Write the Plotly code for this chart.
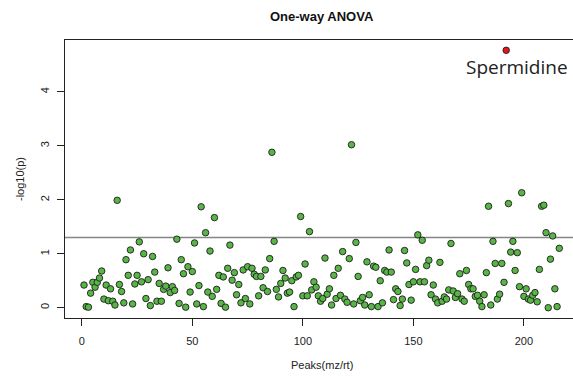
import plotly.graph_objects as go

# -log10(p) for each peak, in peak order (index 1..216)
neglog10p = [
    0.42, 0.02, 0.01, 0.27, 0.47, 0.38, 0.47, 0.55, 0.68, 0.16,
    0.42, 0.13, 0.35, 0.12, 0.05, 1.99, 0.43, 0.30, 0.09, 0.89,
    0.60, 1.07, 0.07, 0.44, 0.60, 1.22, 0.48, 1.00, 0.17, 0.52,
    0.04, 0.95, 0.66, 0.12, 0.45, 0.12, 0.34, 0.40, 0.74, 0.28,
    0.39, 0.32, 1.27, 0.08, 0.89, 0.63, 0.01, 0.76, 0.29, 0.67,
    1.20, 0.07, 0.41, 1.87, 0.02, 1.39, 0.29, 1.05, 0.21, 1.67,
    0.34, 0.60, 0.08, 0.57, 0.01, 0.73, 1.16, 0.51, 0.65, 0.24,
    0.43, 0.09, 0.70, 0.17, 0.76, 0.07, 0.73, 0.62, 0.58, 0.22,
    0.58, 0.37, 0.70, 0.30, 0.91, 2.88, 1.23, 0.34, 0.20, 0.45,
    0.69, 0.55, 0.27, 0.29, 0.50, 0.02, 0.57, 0.60, 1.69, 0.22,
    0.81, 0.22, 1.41, 0.33, 0.48, 0.38, 0.22, 0.12, 0.17, 0.92,
    0.25, 0.35, 0.05, 0.60, 0.17, 0.73, 0.23, 1.04, 0.16, 0.10,
    0.91, 3.02, 0.07, 1.21, 0.58, 0.13, 0.19, 0.05, 0.85, 0.24,
    0.02, 0.77, 0.75, 0.02, 0.50, 0.09, 0.69, 0.66, 1.07, 0.66,
    0.15, 0.35, 0.30, 0.04, 0.16, 1.06, 0.83, 0.43, 0.14, 0.48,
    0.71, 1.35, 0.48, 1.25, 0.48, 0.78, 0.88, 0.24, 0.42, 0.16,
    0.09, 0.84, 0.12, 0.20, 0.16, 0.33, 1.19, 0.31, 0.19, 0.26,
    0.63, 0.16, 0.12, 0.69, 0.43, 0.35, 0.35, 0.21, 0.23, 0.12,
    0.02, 0.24, 0.65, 1.88, 0.05, 1.23, 0.82, 0.16, 0.25, 0.82,
    0.47, 4.77, 1.93, 1.03, 1.23, 0.69, 1.02, 0.39, 2.13, 0.21,
    0.35, 0.16, 0.14, 0.23, 0.28, 0.11, 0.71, 1.88, 1.90, 1.39,
    0.00, 0.90, 1.33, 0.35, 0.02, 1.10,
]
peak_index = list(range(1, len(neglog10p) + 1))
highlight_name = "Spermidine"
highlight_peak = 192
p_cutoff = 0.05

x_ticks = [0, 50, 100, 150, 200]
y_ticks = [0, 1, 2, 3, 4]

import math
threshold = -math.log10(p_cutoff)

others_x = [i for i in peak_index if i != highlight_peak]
others_y = [v for i, v in zip(peak_index, neglog10p) if i != highlight_peak]
hl_y = neglog10p[highlight_peak - 1]

n = len(peak_index)
xpad = 0.04 * (n - 1)
ymin, ymax = min(neglog10p), max(neglog10p)
ypad = 0.04 * (ymax - ymin)

W, H = 573, 377
ml, mt, mb = 65, 40, 59
full_right = 578.3  # R's plot region extends past the cropped picture
x_lo, x_hi_full = 1 - xpad, n + xpad
x_hi = x_lo + (x_hi_full - x_lo) * (W - ml) / (full_right - ml)

font = "Liberation Sans, Arial, Helvetica, sans-serif"

fig = go.Figure()
fig.add_trace(go.Scatter(
    x=others_x, y=others_y, mode="markers",
    marker=dict(size=6.5, color="#58b646", line=dict(color="#1e1e1e", width=0.9)),
    showlegend=False, hoverinfo="skip",
))
fig.add_trace(go.Scatter(
    x=[highlight_peak], y=[hl_y], mode="markers",
    marker=dict(size=6.5, color="#e4161b", line=dict(color="#1e1e1e", width=0.9)),
    showlegend=False, hoverinfo="skip",
))

fig.add_shape(type="line", xref="paper", x0=0, x1=1, yref="y", y0=threshold, y1=threshold,
              line=dict(color="#858585", width=1.4), layer="below")

fig.add_annotation(x=highlight_peak, y=hl_y, xref="x", yref="y", text=highlight_name,
                   showarrow=False, xanchor="center", yanchor="middle", xshift=11, yshift=-17,
                   font=dict(family="Open Sans, Noto Sans, sans-serif", size=19, color="#222222"))

fig.add_annotation(x=(321.5 - ml) / (W - ml), y=1, xref="paper", yref="paper",
                   text="<b>One-way ANOVA</b>", showarrow=False, xanchor="center",
                   yanchor="middle", yshift=24, font=dict(family=font, size=13, color="#111111"))
fig.add_annotation(x=(321.5 - ml) / (W - ml), y=0, xref="paper", yref="paper",
                   text="Peaks(mz/rt)", showarrow=False, xanchor="center",
                   yanchor="middle", yshift=-47, font=dict(family=font, size=11, color="#222222"))
fig.add_annotation(x=0, y=0.5, xref="paper", yref="paper", text="-log10(p)",
                   showarrow=False, textangle=-90, xanchor="center", yanchor="middle",
                   xshift=-45, font=dict(family=font, size=11, color="#222222"))

fig.update_layout(
    width=W, height=H,
    margin=dict(l=ml, r=0, t=mt, b=mb, pad=0),
    paper_bgcolor="white", plot_bgcolor="white",
    font=dict(family=font, size=11, color="#222222"),
    xaxis=dict(range=[x_lo, x_hi], tickvals=x_ticks, ticktext=[str(t) for t in x_ticks],
               showgrid=False, zeroline=False, showline=True, mirror=True,
               linecolor="#222222", linewidth=1, ticks="outside", ticklen=7,
               tickcolor="#222222", tickwidth=1, ticklabelstandoff=6),
    yaxis=dict(range=[ymin - ypad, ymax + ypad], tickvals=y_ticks,
               ticktext=[str(t) for t in y_ticks], tickangle=-90,
               showgrid=False, zeroline=False, showline=True, mirror=False,
               linecolor="#222222", linewidth=1, ticks="outside", ticklen=7,
               tickcolor="#222222", tickwidth=1, ticklabelstandoff=4),
)

fig.write_html("out.html")
